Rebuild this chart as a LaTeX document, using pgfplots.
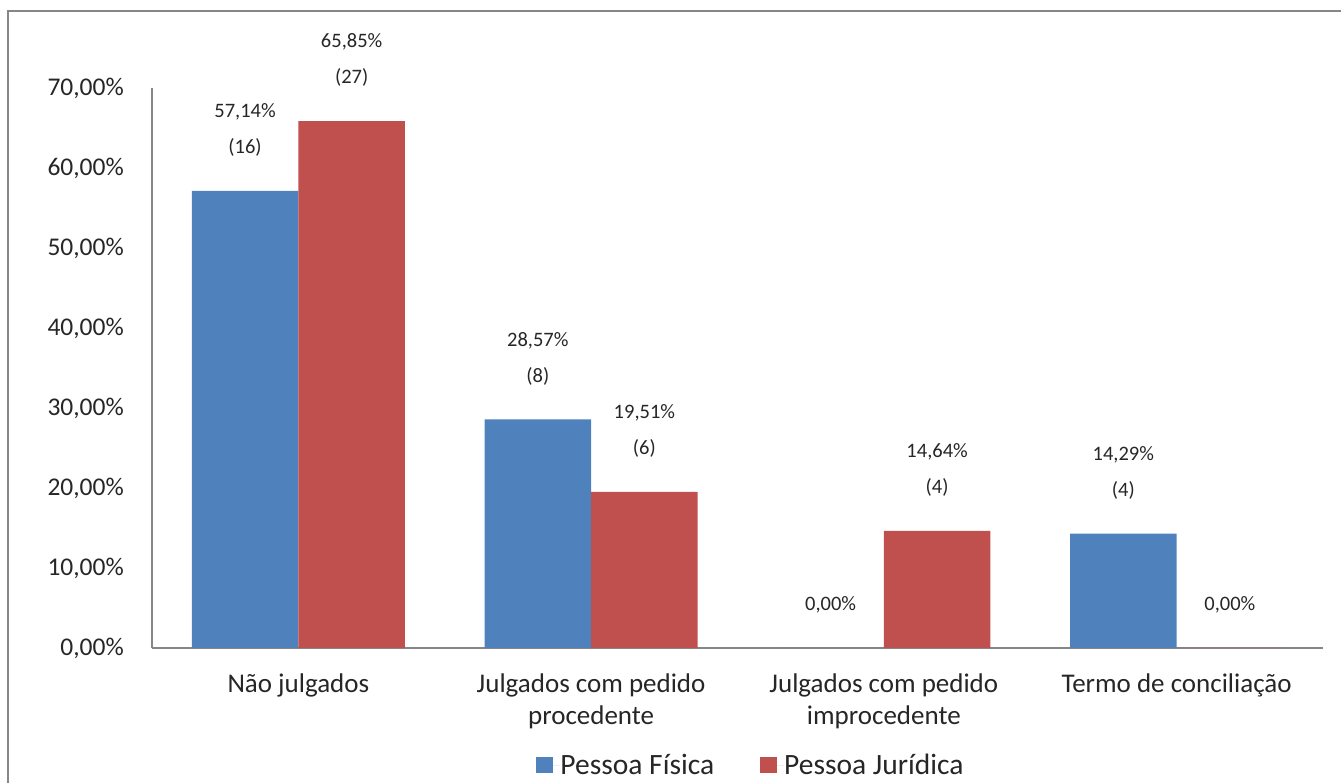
\documentclass[border=0pt]{standalone}
\usepackage{fontspec}
\setmainfont{Carlito}
\usepackage{pgfplots}
\pgfplotsset{compat=1.18}
\definecolor{pfblue}{HTML}{4F81BD}
\definecolor{pjred}{HTML}{C0504D}
\definecolor{axgray}{HTML}{868686}
\definecolor{txt}{HTML}{262626}
\begin{document}
\begin{tikzpicture}[x=1pt,y=1pt]
\useasboundingbox (0,0) rectangle (1341,783);
\draw[axgray, line width=2.5] (8,-5) -- (8,772) -- (1346,772);
\begin{axis}[
  at={(152pt,135pt)}, anchor=south west, scale only axis,
  width=1171pt, height=560pt,
  xmin=-0.5, xmax=3.5, ymin=0, ymax=70,
  ytick={0,10,20,30,40,50,60,70},
  yticklabels={{0,00\%},{10,00\%},{20,00\%},{30,00\%},{40,00\%},{50,00\%},{60,00\%},{70,00\%}},
  xtick={0,1,2,3},
  xticklabels={{Não julgados},{Julgados com pedido\\procedente},{Julgados com pedido\\improcedente},{Termo de conciliação}},
  axis x line*=bottom, axis y line*=left,
  axis line style={axgray, line width=1.5pt},
  major tick length=0pt,
  tick style={draw=none},
  yticklabel style={font=\fontsize{25.5}{30}\selectfont, text=txt, anchor=east, inner sep=0pt, xshift=-28pt},
  xticklabel style={font=\fontsize{27}{32}\selectfont, text=txt, align=center, anchor=north, inner sep=0pt, yshift=-26pt},
  ybar, bar width=0.364,
  nodes near coords, point meta=explicit symbolic,
  every node near coord/.append style={font=\fontsize{20.5}{36}\selectfont, text=txt, align=center, anchor=south, inner sep=0pt, text depth=5pt, yshift=32pt},
  legend columns=2,
  legend style={at={(0.5107,-0.209)}, anchor=center, draw=none, fill=none,
    font=\fontsize{29.5}{32}\selectfont, text=txt,
    nodes={inner xsep=0pt},
    /tikz/every even column/.append style={column sep=46pt}},
  legend image code/.code={\fill[#1,draw=none] (0pt,-8pt) rectangle (17pt,8pt); \path (0pt,0pt) -- (24pt,0pt);},
]
\addplot[fill=pfblue, draw=none, bar shift=-0.182] coordinates {
  (0,57.14) [57,14\%\\(16)]
  (1,28.57) [28,57\%\\(8)]
  (2,0) [0,00\%]
  (3,14.29) [14,29\%\\(4)]
};
\addlegendentry{Pessoa Física}
\addplot[fill=pjred, draw=none, bar shift=0.182] coordinates {
  (0,65.85) [65,85\%\\(27)]
  (1,19.51) [19,51\%\\(6)]
  (2,14.64) [14,64\%\\(4)]
  (3,0) [0,00\%]
};
\addlegendentry{Pessoa Jurídica}
\end{axis}
\end{tikzpicture}
\end{document}
